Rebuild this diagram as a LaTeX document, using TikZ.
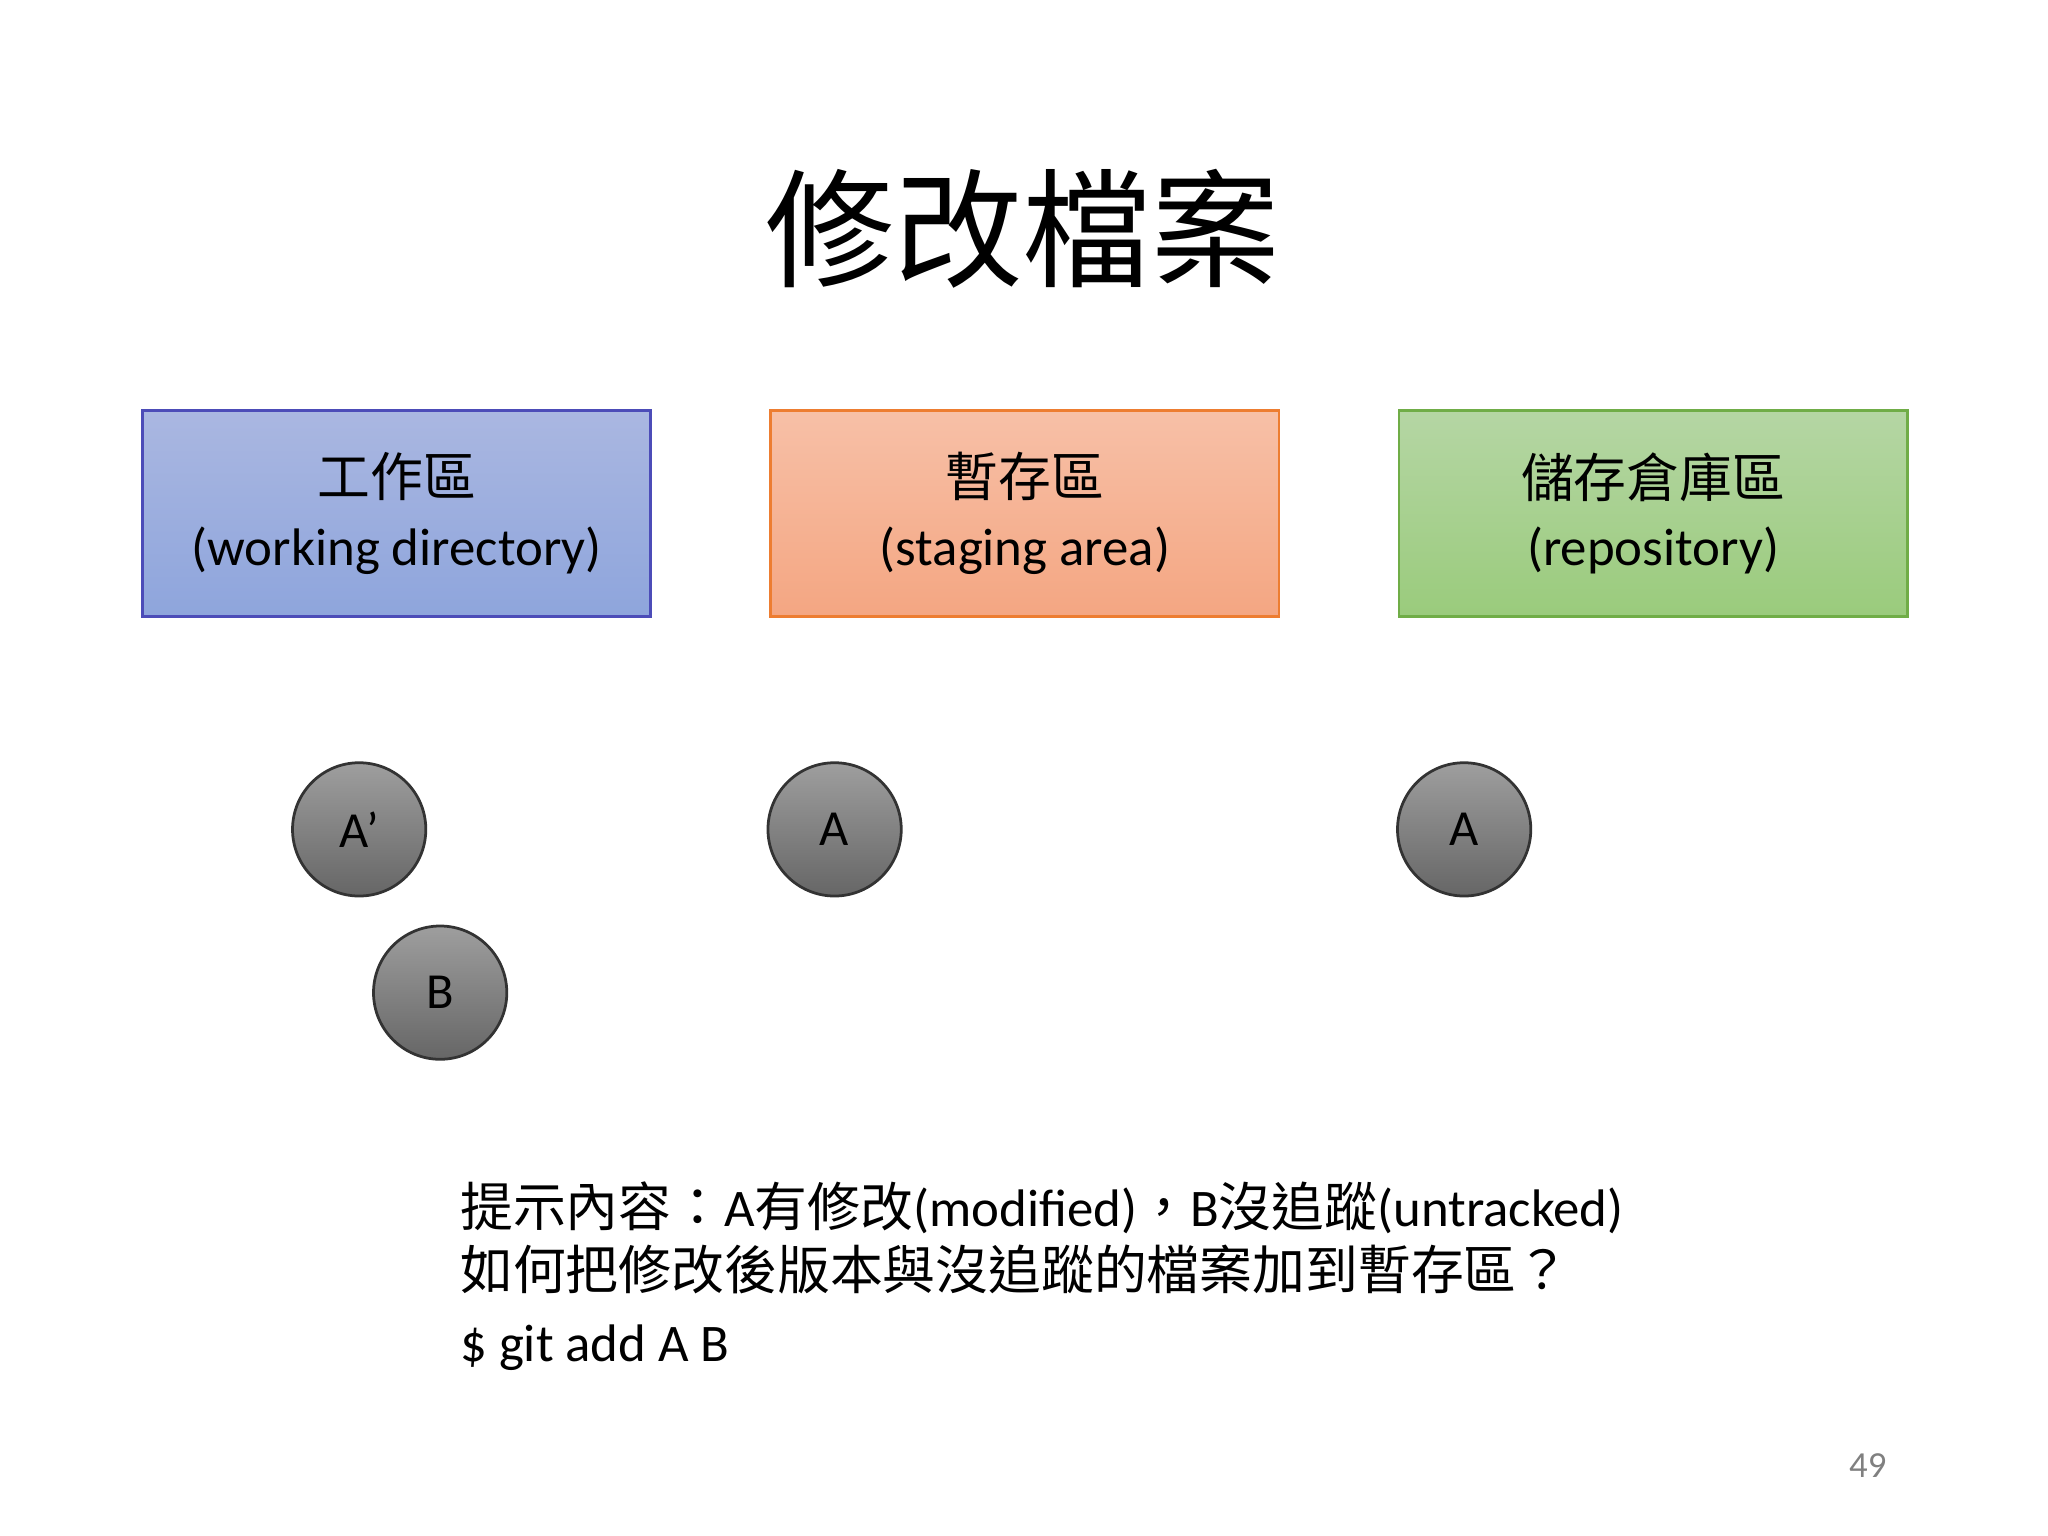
\documentclass[tikz,border=0pt]{standalone}
\usepackage{fontspec}
\setmainfont{Carlito}
\newfontfamily\cjk{Noto Sans CJK TC}
\begin{document}
\begin{tikzpicture}[x=0.01cm,y=-0.01cm,
  box/.style={draw, minimum width=3.89cm, minimum height=1.58cm, anchor=north west, line width=0.6pt},
  ball/.style={circle, draw=black!80, minimum size=1.02cm, top color=black!38, bottom color=black!60, font=\fontsize{11}{12}\selectfont, text=black, line width=0.6pt},
  lab/.style={align=center, font=\fontsize{11.5}{15}\selectfont}]
\useasboundingbox (0,0) rectangle (1568,1176);
\node (t) at (783,175) {\cjk\fontsize{28}{30}\selectfont 修改檔案};
\node[box, draw=blue!60!black!70, top color={rgb,255:red,170;green,183;blue,225}, bottom color={rgb,255:red,142;green,165;blue,220}] (w) at (108,313) {};
\node[box, draw={rgb,255:red,237;green,125;blue,49}, top color={rgb,255:red,247;green,192;blue,167}, bottom color={rgb,255:red,244;green,166;blue,130}] (s) at (589,313) {};
\node[box, draw={rgb,255:red,112;green,173;blue,71}, top color={rgb,255:red,181;green,214;blue,164}, bottom color={rgb,255:red,154;green,203;blue,124}] (r) at (1070,313) {};
\node[lab] at (w.center) {{\cjk 工作區}\\(working directory)};
\node[lab] at (s.center) {{\cjk 暫存區}\\(staging area)};
\node[lab] at (r.center) {{\cjk 儲存倉庫區}\\(repository)};
\node[ball] (a1) at (275,635) {A’};
\node[ball] (b1) at (337,760) {B};
\node[ball] (a2) at (639,635) {A};
\node[ball] (a3) at (1121,635) {A};
\node[anchor=west, font=\fontsize{11.5}{15}\selectfont] (h1) at (340,925) {{\cjk 提示內容：}A{\cjk 有修改}(modified){\cjk ，}B{\cjk 沒追蹤}(untracked)};
\node[anchor=west, font=\fontsize{11.5}{15}\selectfont] (h2) at (340,972) {\cjk 如何把修改後版本與沒追蹤的檔案加到暫存區？};
\node[anchor=west, font=\fontsize{11.5}{15}\selectfont] (h3) at (340,1032) {\$ git add A B};
\node[text=black!50, font=\fontsize{8}{9}\selectfont] (p) at (1430,1122) {49};
\end{tikzpicture}
\end{document}
